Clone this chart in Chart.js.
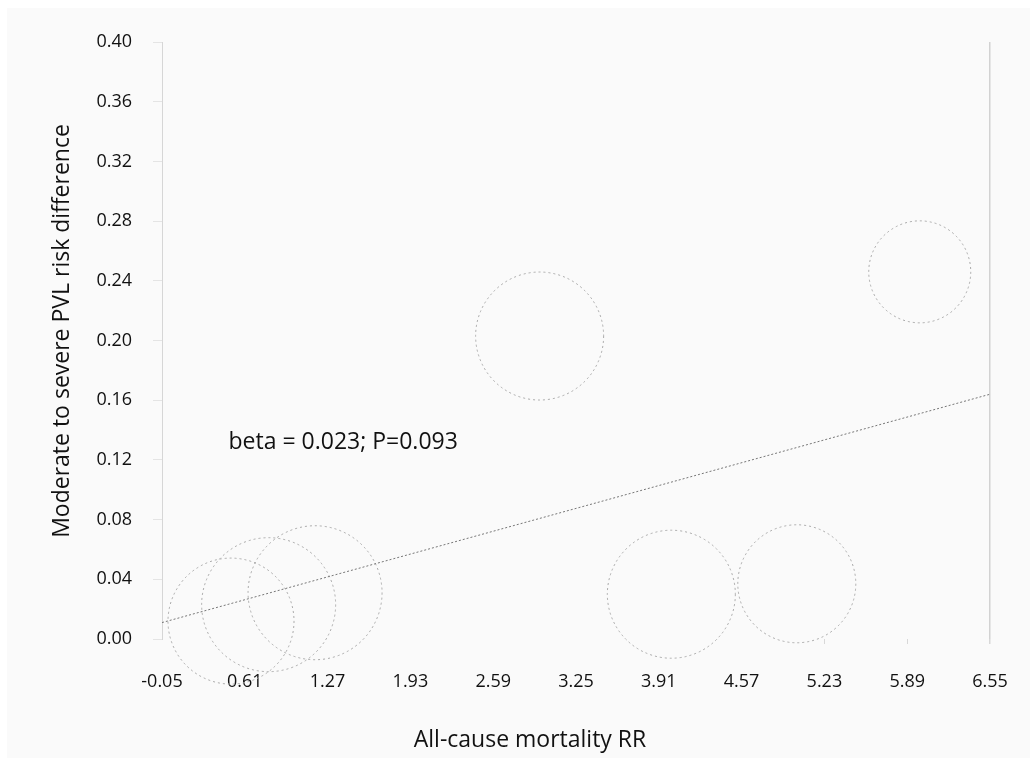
<!DOCTYPE html>
<html>
<head>
<meta charset="utf-8">
<script src="https://cdn.jsdelivr.net/npm/chart.js@4"></script>
<style>
  html, body { margin: 0; padding: 0; background: #fff; }
  #wrap { width: 1030px; height: 758px; }
</style>
</head>
<body>
<div id="wrap"><canvas id="bubbleChart" width="1030" height="758"></canvas></div>
<script>
// study estimates
const mortalityRR = [0.50, 0.80, 1.17, 2.96, 4.01, 5.01, 5.99];
const pvlRiskDiff = [0.012, 0.023, 0.031, 0.203, 0.030, 0.037, 0.246];
const studyWeight = [63, 67, 67, 64, 64, 59, 51];

// meta-regression line end points
const fitX = [-0.05, 6.55];
const fitY = [0.011, 0.164];

const xTicks = [-0.05, 0.61, 1.27, 1.93, 2.59, 3.25, 3.91, 4.57, 5.23, 5.89, 6.55];
const yTicks = [0, 0.04, 0.08, 0.12, 0.16, 0.20, 0.24, 0.28, 0.32, 0.36, 0.40];

const annotation = 'beta = 0.023; P=0.093';
const xTitle = 'All-cause mortality RR';
const yTitle = 'Moderate to severe PVL risk difference';

const FONT = '"Open Sans", "Noto Sans", sans-serif';

const panelBg = {
  id: 'panelBg',
  beforeDraw(chart) {
    const ctx = chart.ctx;
    ctx.save();
    ctx.fillStyle = '#fafafa';
    ctx.fillRect(7, 8, chart.width - 7, chart.height - 8);
    ctx.restore();
  }
};

// points do not take a dash option, so set it round the bubble dataset
const dottedBubbles = {
  id: 'dottedBubbles',
  beforeDatasetDraw(chart, args) {
    if (args.meta.type !== 'bubble') return;
    chart.ctx.save();
    chart.ctx.setLineDash([2, 3]);
  },
  afterDatasetDraw(chart, args) {
    if (args.meta.type !== 'bubble') return;
    chart.ctx.restore();
  }
};

const texts = {
  id: 'texts',
  afterDraw(chart) {
    const ctx = chart.ctx;
    const xs = chart.scales.x, ys = chart.scales.y;
    ctx.save();
    ctx.fillStyle = '#111';
    ctx.font = '23px ' + FONT;
    ctx.textBaseline = 'middle';
    ctx.textAlign = 'left';
    ctx.fillText(annotation, xs.getPixelForValue(0.48), ys.getPixelForValue(0.132));
    ctx.textAlign = 'center';
    ctx.fillText(xTitle, 530, 740);
    ctx.translate(62, 331);
    ctx.rotate(-Math.PI / 2);
    ctx.fillText(yTitle, 0, 0);
    ctx.restore();
  }
};

const bubbleData = mortalityRR.map((v, i) => ({ x: v, y: pvlRiskDiff[i], r: studyWeight[i] }));
const fitData = fitX.map((v, i) => ({ x: v, y: fitY[i] }));

new Chart(document.getElementById('bubbleChart'), {
  type: 'bubble',
  data: {
    datasets: [
      {
        type: 'line',
        data: fitData,
        borderColor: '#777',
        borderWidth: 1,
        borderDash: [2, 2],
        pointRadius: 0,
        fill: false
      },
      {
        data: bubbleData,
        backgroundColor: 'rgba(0,0,0,0)',
        borderColor: '#aaa',
        borderWidth: 1,
        clip: false
      }
    ]
  },
  options: {
    responsive: false,
    animation: false,
    events: [],
    layout: { autoPadding: false, padding: { left: 0, top: 42, right: 40, bottom: 0 } },
    plugins: {
      legend: { display: false },
      tooltip: { enabled: false }
    },
    scales: {
      x: {
        type: 'linear',
        min: -0.05,
        max: 6.55,
        afterBuildTicks: (scale) => { scale.ticks = xTicks.map(v => ({ value: v })); },
        afterFit: (scale) => {
          scale.height = 119;
          scale.paddingLeft = 0;
          scale.paddingRight = 0;
        },
        border: { display: false },
        grid: {
          drawTicks: true,
          tickLength: 5,
          color: (c) => c.index === xTicks.length - 1 ? '#d2d2d2' : 'rgba(0,0,0,0)',
          tickColor: (c) => c.index >= 8 ? '#d8d8d8' : 'rgba(0,0,0,0)',
          lineWidth: (c) => c.index === xTicks.length - 1 ? 1.5 : 1
        },
        ticks: {
          padding: 27,
          maxRotation: 0,
          color: '#111',
          font: { family: FONT, size: 18 },
          callback: (v) => Number(v).toFixed(2)
        }
      },
      y: {
        type: 'linear',
        min: 0,
        max: 0.4,
        afterBuildTicks: (scale) => { scale.ticks = yTicks.map(v => ({ value: v })); },
        afterFit: (scale) => { scale.width = 162; },
        border: { display: true, color: '#d6d6d6', width: 1 },
        grid: {
          drawOnChartArea: false,
          drawTicks: true,
          tickLength: 9,
          tickColor: '#e4e4e4'
        },
        ticks: {
          padding: 21,
          color: '#111',
          font: { family: FONT, size: 18 },
          callback: (v) => Number(v).toFixed(2)
        }
      }
    }
  },
  plugins: [panelBg, dottedBubbles, texts]
});
</script>
</body>
</html>
